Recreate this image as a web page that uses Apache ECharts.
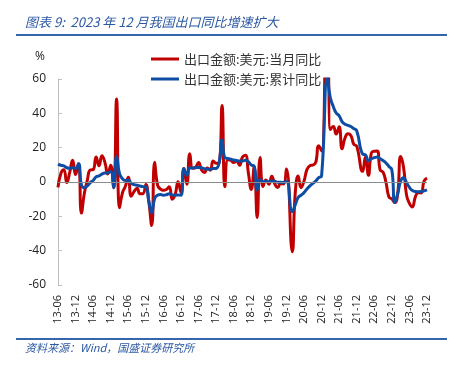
<!DOCTYPE html>
<html>
<head>
<meta charset="utf-8">
<script src="https://cdn.jsdelivr.net/npm/echarts@6/dist/echarts.min.js"></script>
<style>
  html, body { margin: 0; padding: 0; background: #fff; }
  #chart { width: 461px; height: 369px; }
</style>
</head>
<body>
<div id="chart"></div>
<script>
// 月份 13-06 ~ 23-12
let months = []
for (let y = 13; y <= 23; y++) {
  for (let m = 1; m <= 12; m++) {
    if (y === 13 && m < 6) continue
    months.push(y + '-' + (m < 10 ? '0' + m : m))
  }
}

// 出口金额:美元:当月同比 (%)
let dangyue = [
  -3.1, 5.1, 7.2, -0.3, 5.6, 12.7, 4.3,
  10.6, -18.1, -6.6, 0.9, 7.0, 7.2, 14.5, 9.4, 15.3, 11.6, 4.7, 9.7,
  -3.3, 48.3, -15.0, -6.4, -2.5, 2.8, -8.3, -5.5, -3.7, -6.9, -6.8, -1.4,
  -11.2, -25.4, 11.5, -1.8, -4.1, -4.8, -4.4, -2.8, -10.0, -7.3, 0.1, -6.1,
  7.9, -1.3, 16.4, 8.0, 8.7, 11.3, 7.2, 5.5, 8.1, 6.9, 12.3, 10.9,
  11.1, 44.5, -2.7, 12.9, 12.6, 11.3, 12.2, 9.8, 14.5, 15.6, 5.4, -4.4,
  9.1, -20.7, 14.2, -2.7, 1.1, -1.3, 3.3, -1.0, -3.2, -0.9, -1.1, 7.6,
  null, -40.6, -6.6, 3.5, -3.3, 0.5, 7.2, 9.5, 9.9, 11.4, 21.1, 18.1,
  null, 154.9, 30.6, 32.3, 27.9, 32.2, 19.3, 25.6, 28.1, 27.1, 22.0, 20.9,
  null, 6.2, 14.7, 3.9, 16.9, 17.9, 18.0, 7.1, 5.7, -0.3, -8.7, -9.9,
  -12.0, -6.8, 14.8, 8.5, -7.5, -12.4, -14.5, -8.8, -6.2, -6.4, 0.5, 2.3
]

// 出口金额:美元:累计同比 (%)
let leiji = [
  10.4, 9.7, 9.4, 8.3, 8.0, 8.3, 7.9,
  10.6, -1.6, -3.4, -2.3, -0.4, 0.9, 3.0, 3.6, 4.6, 5.3, 5.3, 6.1,
  -3.3, 15.0, 4.9, 1.9, 0.9, 1.2, -0.8, -1.5, -1.9, -2.3, -2.7, -2.8,
  -11.2, -17.8, -9.6, -7.6, -7.3, -7.7, -7.4, -6.8, -7.5, -7.7, -7.5, -7.7,
  7.9, 4.0, 8.2, 8.2, 8.3, 8.5, 8.3, 7.7, 7.5, 7.4, 7.8, 7.9,
  11.1, 24.4, 14.1, 13.7, 13.3, 12.8, 12.5, 12.2, 12.2, 12.6, 11.8, 9.9,
  9.1, -4.6, 1.4, 0.2, 0.5, 0.1, 0.6, 0.4, -0.1, -0.2, -0.3, 0.5,
  null, -17.2, -13.4, -9.0, -7.7, -6.2, -4.1, -2.3, -0.8, 0.5, 2.5, 3.6,
  null, 60.6, 49.0, 44.0, 40.2, 38.6, 35.2, 33.7, 33.0, 32.3, 31.1, 29.9,
  null, 16.3, 15.8, 12.5, 13.5, 14.2, 14.6, 13.5, 12.5, 11.1, 9.0, 7.0,
  -12.0, -6.8, 0.5, 2.5, -0.3, -3.2, -5.0, -5.6, -5.7, -5.6, -5.2, -4.6
]

let seriesNames = ['出口金额:美元:当月同比', '出口金额:美元:累计同比']
let titleText = '图表 9:  2023 年 12 月我国出口同比增速扩大'
let sourceText = '资料来源：Wind，国盛证券研究所'

let cjk = '"Noto Sans CJK SC", "Noto Sans", sans-serif'
let num = '"Open Sans", "Noto Sans", sans-serif'

let myChart = echarts.init(document.getElementById('chart'))
let option = {
  backgroundColor: '#fff',
  animation: false,
  graphic: [
    {
      type: 'text', left: 25, top: 16,
      style: { text: titleText, fill: '#2b58a3', font: 'italic 13px ' + cjk }
    },
    { type: 'rect', shape: { x: 16, y: 34, width: 431, height: 2 }, style: { fill: '#3565ab' } },
    { type: 'rect', shape: { x: 16, y: 338, width: 431, height: 2 }, style: { fill: '#3565ab' } },
    {
      type: 'text', left: 25, top: 342,
      style: { text: sourceText, fill: '#2b58a3', font: 'italic 11px ' + cjk }
    },
    {
      type: 'text', left: 35, top: 51,
      style: { text: '%', fill: '#222', font: '12px ' + num }
    }
  ],
  legend: {
    data: seriesNames,
    orient: 'vertical',
    left: 146,
    top: 45,
    itemGap: 2,
    itemWidth: 28,
    itemHeight: 3,
    icon: 'rect',
    textStyle: { fontFamily: cjk, fontSize: 13, color: '#333', lineHeight: 18 }
  },
  grid: { left: 58, right: 34, top: 79, bottom: 84 },
  xAxis: {
    type: 'category',
    data: months,
    boundaryGap: false,
    axisLine: { show: false },
    axisTick: { show: false },
    axisLabel: {
      interval: 5,
      rotate: 90,
      margin: 10,
      color: '#222',
      fontSize: 11,
      fontFamily: num
    }
  },
  yAxis: {
    type: 'value',
    min: -60,
    max: 60,
    interval: 20,
    axisLine: { show: true, lineStyle: { color: '#bfbfbf' } },
    axisTick: { show: true, inside: true, length: 4, lineStyle: { color: '#bfbfbf' } },
    splitLine: { show: false },
    axisLabel: { margin: 12, color: '#222', fontSize: 12, fontFamily: num }
  },
  series: [
    {
      name: seriesNames[0],
      type: 'line',
      data: dangyue,
      connectNulls: true,
      smooth: 0.5,
      showSymbol: false,
      clip: true,
      lineStyle: { color: '#c00000', width: 3 },
      itemStyle: { color: '#c00000' },
      // 零线
      markLine: {
        silent: true,
        symbol: 'none',
        label: { show: false },
        lineStyle: { color: '#8c8c8c', width: 1, type: 'solid' },
        data: [{ yAxis: 0 }]
      },
      z: 2
    },
    {
      name: seriesNames[1],
      type: 'line',
      data: leiji,
      connectNulls: true,
      smooth: 0.5,
      showSymbol: false,
      clip: true,
      lineStyle: { color: '#0e4da4', width: 3 },
      itemStyle: { color: '#0e4da4' },
      z: 3
    }
  ]
}
myChart.setOption(option)
</script>
</body>
</html>
